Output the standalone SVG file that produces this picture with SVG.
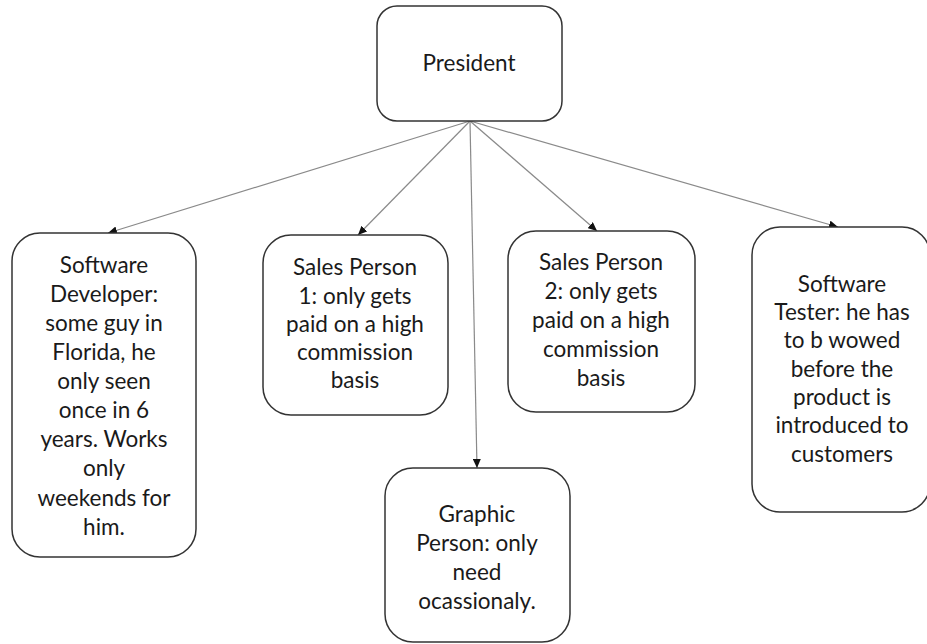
<svg xmlns="http://www.w3.org/2000/svg" width="927" height="644" viewBox="0 0 927 644">
<defs>
<marker id="arr" markerWidth="9" markerHeight="8" refX="9" refY="4" orient="auto" markerUnits="userSpaceOnUse">
<path d="M0,0 L9,4 L0,8 Z" fill="#111"/>
</marker>
<style>
.box{fill:#fff;stroke:#333;stroke-width:1.5}
.t{font-family:Lato,"Liberation Sans",sans-serif;font-size:22.5px;fill:#1a1a1a;text-anchor:middle}
.c{stroke:#8a8a8a;stroke-width:1.2;fill:none;marker-end:url(#arr)}
</style>
</defs>
<rect width="927" height="644" fill="#fff"/>
<g id="connectors">
<line class="c" x1="470" y1="121" x2="108" y2="233"/>
<line class="c" x1="470" y1="121" x2="358" y2="235"/>
<line class="c" x1="470" y1="121" x2="477" y2="468"/>
<line class="c" x1="470" y1="121" x2="597" y2="231"/>
<line class="c" x1="470" y1="121" x2="838" y2="227"/>
</g>
<g id="president">
<rect class="box" x="377" y="6" width="185" height="115" rx="20"/>
<text class="t" x="469" y="71">President</text>
</g>
<g id="software-developer">
<rect class="box" x="12" y="233" width="184" height="324" rx="28"/>
<text class="t" x="104"><tspan x="104" y="273">Software</tspan><tspan x="104" y="302">Developer:</tspan><tspan x="104" y="331">some guy in</tspan><tspan x="104" y="360">Florida, he</tspan><tspan x="104" y="389">only seen</tspan><tspan x="104" y="418">once in 6</tspan><tspan x="104" y="447">years. Works</tspan><tspan x="104" y="476">only</tspan><tspan x="104" y="506">weekends for</tspan><tspan x="104" y="535">him.</tspan></text>
</g>
<g id="sales-person-1">
<rect class="box" x="263" y="235" width="185" height="180" rx="28"/>
<text class="t"><tspan x="355" y="275">Sales Person</tspan><tspan x="355" y="304">1: only gets</tspan><tspan x="355" y="332">paid on a high</tspan><tspan x="355" y="360">commission</tspan><tspan x="355" y="388">basis</tspan></text>
</g>
<g id="sales-person-2">
<rect class="box" x="508" y="231" width="187" height="181" rx="28"/>
<text class="t"><tspan x="601" y="270">Sales Person</tspan><tspan x="601" y="299">2: only gets</tspan><tspan x="601" y="328">paid on a high</tspan><tspan x="601" y="357">commission</tspan><tspan x="601" y="386">basis</tspan></text>
</g>
<g id="graphic-person">
<rect class="box" x="385" y="468" width="185" height="174" rx="28"/>
<text class="t"><tspan x="477" y="522">Graphic</tspan><tspan x="477" y="551">Person: only</tspan><tspan x="477" y="580">need</tspan><tspan x="477" y="609">ocassionaly.</tspan></text>
</g>
<g id="software-tester">
<rect class="box" x="752" y="227" width="178" height="285" rx="28"/>
<text class="t"><tspan x="842" y="292">Software</tspan><tspan x="842" y="320">Tester: he has</tspan><tspan x="842" y="348">to b wowed</tspan><tspan x="842" y="377">before the</tspan><tspan x="842" y="405">product is</tspan><tspan x="842" y="433">introduced to</tspan><tspan x="842" y="462">customers</tspan></text>
</g>
</svg>
